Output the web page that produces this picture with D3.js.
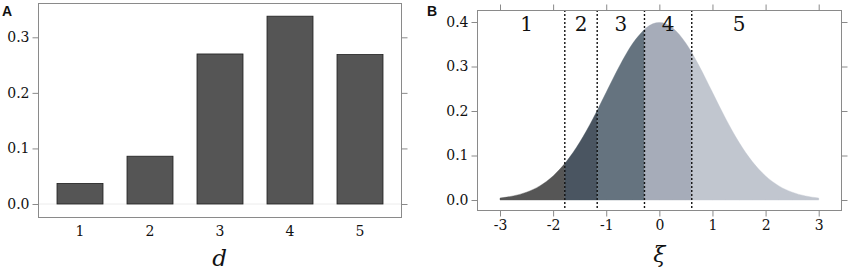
<!DOCTYPE html>
<html><head><meta charset="utf-8">
<script src="https://cdn.jsdelivr.net/npm/d3@7"></script>
<style>body{margin:0;background:#fff}svg{display:block}</style>
</head><body>
<svg id="c" width="851" height="274"></svg>
<script>
// Panel A data
const categories = [1, 2, 3, 4, 5];
const probabilities = [0.037, 0.086, 0.270, 0.338, 0.269];
const yTicksA = [0.0, 0.1, 0.2, 0.3];

// Panel B data
const xiValues = [-3, -2.75, -2.5, -2.25, -2, -1.78, -1.75, -1.5, -1.25, -1.17, -1, -0.75, -0.5, -0.28, -0.25, 0, 0.25, 0.5, 0.61, 0.75, 1, 1.25, 1.5, 1.75, 2, 2.25, 2.5, 2.75, 3];
const densityValues = [0.0044, 0.0091, 0.0175, 0.0317, 0.0540, 0.0818, 0.0863, 0.1295, 0.1826, 0.2012, 0.2420, 0.3011, 0.3521, 0.3836, 0.3867, 0.3989, 0.3867, 0.3521, 0.3312, 0.3011, 0.2420, 0.1826, 0.1295, 0.0863, 0.0540, 0.0317, 0.0175, 0.0091, 0.0044];
const thresholds = [-1.78, -1.17, -0.28, 0.61];
const regionLabels = ["1", "2", "3", "4", "5"];
const regionLabelX = [-2.5, -1.475, -0.725, 0.165, 1.5];
const regionColors = ["#565656", "#4a5561", "#65737f", "#a6acb9", "#c1c6cf"];
const xTicksB = [-3, -2, -1, 0, 1, 2, 3];
const yTicksB = [0.0, 0.1, 0.2, 0.3, 0.4];

const svg = d3.select("#c");
const serif = "'DejaVu Serif', serif";
const frameColor = "#8a8a8a";
const tickFont = 14;

// ---------- Panel A ----------
const A = {l: 38, r: 401, t: 3, b: 217};
const xA = d3.scaleBand().domain(categories).range([45, 395]).paddingInner(0.343).paddingOuter(0.1715);
const yA = d3.scaleLinear().domain([0, 0.3]).range([204, 37.3]);
const gA = svg.append("g");

gA.append("line").attr("x1", A.l).attr("x2", A.r).attr("y1", yA(0)).attr("y2", yA(0))
  .attr("stroke", "#ececec").attr("stroke-width", 1);

gA.selectAll("rect.bar").data(categories).join("rect").attr("class", "bar")
  .attr("x", d => xA(d)).attr("width", xA.bandwidth())
  .attr("y", (d, i) => yA(probabilities[i])).attr("height", (d, i) => yA(0) - yA(probabilities[i]))
  .attr("fill", "#555555").attr("stroke", "#1e1e1e").attr("stroke-width", 0.8);

gA.append("rect").attr("x", A.l + 0.5).attr("y", A.t + 0.5).attr("width", A.r - A.l).attr("height", A.b - A.t)
  .attr("fill", "none").attr("stroke", frameColor).attr("stroke-width", 1);

const axLA = gA.append("g").attr("transform", `translate(${A.l + 0.5},0)`)
  .call(d3.axisLeft(yA).tickValues(yTicksA).tickFormat(d3.format(".1f")).tickSize(6).tickPadding(3));
const axRA = gA.append("g").attr("transform", `translate(${A.r + 0.5},0)`)
  .call(d3.axisRight(yA).tickValues(yTicksA).tickSize(6).tickFormat(""));
const axBA = gA.append("g").attr("transform", `translate(0,${A.b + 0.5})`)
  .call(d3.axisBottom(xA).tickSize(0).tickPadding(9));
[axLA, axRA, axBA].forEach(a => {
  a.select(".domain").remove();
  a.selectAll("line").attr("stroke", frameColor);
  a.selectAll("text").attr("font-family", serif).attr("font-size", tickFont).attr("fill", "#111");
});
gA.append("text").attr("x", (A.l + A.r) / 2).attr("y", 266).attr("text-anchor", "middle")
  .attr("font-family", serif).attr("font-style", "italic").attr("font-size", 23).attr("fill", "#111").text("d");
svg.append("text").attr("x", 2).attr("y", 16).attr("font-family", "'Liberation Sans', Arial, sans-serif")
  .attr("font-weight", "bold").attr("font-size", 14).attr("fill", "#111").text("A");

// ---------- Panel B ----------
const B = {l: 477, r: 841, t: 10, b: 210};
const xB = d3.scaleLinear().domain([-3, 3]).range([500, 818.7]);
const yB = d3.scaleLinear().domain([0, 0.4]).range([200, 22]);
const gB = svg.append("g");

const pts = xiValues.map((x, i) => ({x, y: densityValues[i]}));
const bounds = [-3, ...thresholds, 3];
const area = d3.area().x(d => xB(d.x)).y0(yB(0)).y1(d => yB(d.y)).curve(d3.curveMonotoneX);
for (let k = 0; k < 5; k++) {
  const seg = pts.filter(p => p.x >= bounds[k] - 1e-9 && p.x <= bounds[k + 1] + 1e-9);
  gB.append("path").datum(seg).attr("d", area).attr("fill", regionColors[k]).attr("stroke", regionColors[k]).attr("stroke-width", 0.4);
}

gB.selectAll("line.th").data(thresholds).join("line").attr("class", "th")
  .attr("x1", d => xB(d)).attr("x2", d => xB(d)).attr("y1", B.t).attr("y2", B.b)
  .attr("stroke", "#111").attr("stroke-width", 1.4).attr("stroke-dasharray", "2,2");

gB.selectAll("text.rl").data(regionLabels).join("text").attr("class", "rl")
  .attr("x", (d, i) => xB(regionLabelX[i])).attr("y", 31).attr("text-anchor", "middle")
  .attr("font-family", serif).attr("font-size", 20).attr("fill", "#111").text(d => d);

gB.append("rect").attr("x", B.l + 0.5).attr("y", B.t + 0.5).attr("width", B.r - B.l).attr("height", B.b - B.t)
  .attr("fill", "none").attr("stroke", frameColor).attr("stroke-width", 1);

const axLB = gB.append("g").attr("transform", `translate(${B.l + 0.5},0)`)
  .call(d3.axisLeft(yB).tickValues(yTicksB).tickFormat(d3.format(".1f")).tickSize(6).tickPadding(3));
const axRB = gB.append("g").attr("transform", `translate(${B.r + 0.5},0)`)
  .call(d3.axisRight(yB).tickValues(yTicksB).tickSize(6).tickFormat(""));
const axBB = gB.append("g").attr("transform", `translate(0,${B.b + 0.5})`)
  .call(d3.axisBottom(xB).tickValues(xTicksB).tickFormat(d => String(d)).tickSize(6).tickPadding(4));
const axTB = gB.append("g").attr("transform", `translate(0,${B.t + 0.5})`)
  .call(d3.axisTop(xB).tickValues(xTicksB).tickSize(6).tickFormat(""));
[axLB, axRB, axBB, axTB].forEach(a => {
  a.select(".domain").remove();
  a.selectAll("line").attr("stroke", frameColor);
  a.selectAll("text").attr("font-family", serif).attr("font-size", tickFont).attr("fill", "#111");
});
gB.append("text").attr("x", xB(0)).attr("y", 262).attr("text-anchor", "middle")
  .attr("font-family", serif).attr("font-style", "italic").attr("font-size", 22).attr("fill", "#111").text("ξ");
svg.append("text").attr("x", 427).attr("y", 16).attr("font-family", "'Liberation Sans', Arial, sans-serif")
  .attr("font-weight", "bold").attr("font-size", 14).attr("fill", "#111").text("B");
</script>
</body></html>
